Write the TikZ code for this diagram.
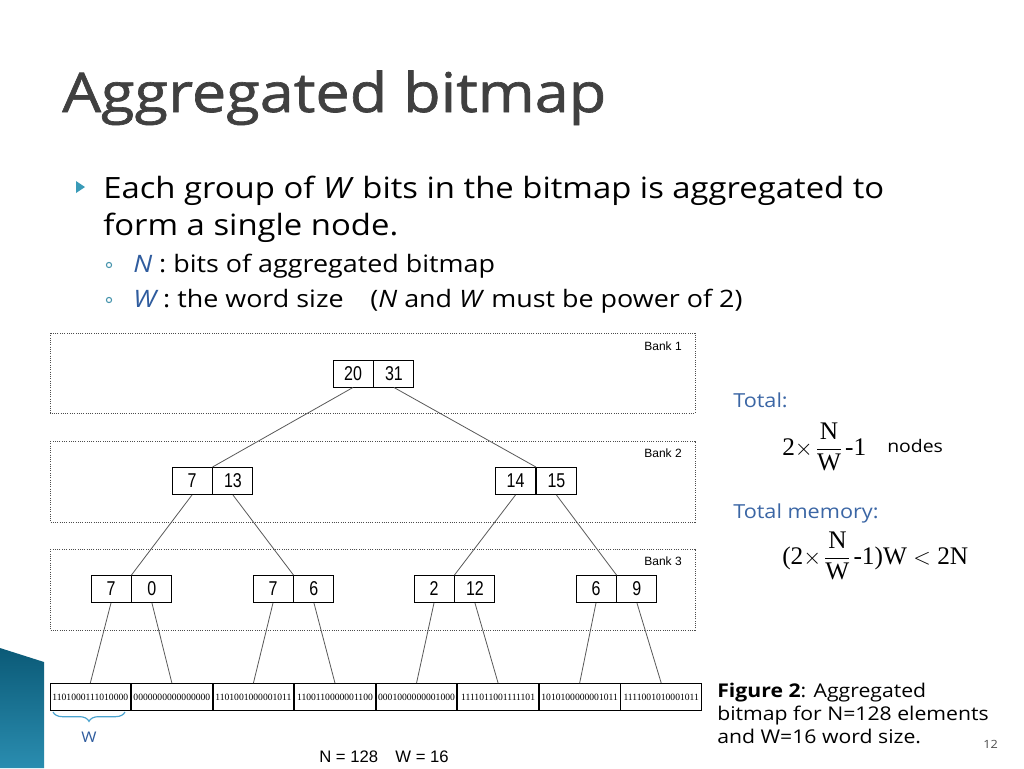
\documentclass[tikz,border=0pt]{standalone}
\usepackage{fontspec}
\usepackage{amsmath}
\setmainfont{Open Sans}[FakeStretch=1.12]
\newfontfamily\titlefont{Open Sans}[FakeStretch=1.12, FakeBold=1.2]
\newfontfamily\arialfont{Liberation Sans}
\newfontfamily\narrowfont[FakeStretch=0.8]{Liberation Sans}
\newfontfamily\timesfont{Liberation Serif}
\usetikzlibrary{positioning,decorations.pathreplacing}
\definecolor{titlegray}{HTML}{404040}
\definecolor{textblue}{HTML}{2F5C9E}
\definecolor{headblue}{HTML}{3B66A5}
\definecolor{bulletteal}{HTML}{3A9BB8}
\definecolor{bracecol}{HTML}{4AA3CF}
\definecolor{cornerdark}{HTML}{0B5A77}
\definecolor{cornerlight}{HTML}{2A8DB0}
\tikzset{
	cell/.style={draw=black, line width=0.7pt, minimum width=30pt, minimum height=20.25pt, inner sep=0pt, font=\narrowfont\fontsize{15}{15}\selectfont},
	bitcell/.style={draw=black, line width=0.7pt, minimum width=60.47pt, minimum height=20.25pt, inner sep=0pt, font=\timesfont\fontsize{7.2}{7.2}\selectfont},
	bankbox/.style={draw=black!70, densely dotted, line width=0.7pt},
	banklabel/.style={anchor=east, inner sep=0pt, font=\arialfont\fontsize{9}{9}\selectfont},
	edge/.style={draw=black!65, line width=0.6pt},
	slidetext/.style={anchor=base west, inner sep=0pt},
}
% two cells side by side: (x)(y)(name){left}{right}
\def\pair(#1)(#2)(#3)#4#5{\node[cell] (#3-a) at (#1, #2) {#4}; \node[cell, right=0pt of #3-a] (#3-b) {#5};}

\begin{document}
\begin{tikzpicture}[x=0.75pt, y=-0.75pt]
			%%%%% START %%%%%
			\useasboundingbox (0, 0) rectangle (1024, 768);
			\fill[white] (0, 0) rectangle (1024, 768);
			
			\shade[top color=cornerdark, bottom color=cornerlight] (0, 648) -- (44, 662) -- (44, 768) -- (0, 768) -- cycle;
			
			\node[slidetext, text=titlegray, font=\titlefont\fontsize{41}{46}\selectfont] (title) at (62, 112) {Aggregated bitmap};
			
			\fill[bulletteal] (76, 181) -- (85, 187) -- (76, 193) -- cycle;
			\node[slidetext, font=\fontsize{22}{26}\selectfont] (line1) at (103, 198) {Each group of \textit{W} bits in the bitmap is aggregated to};
			\node[slidetext, font=\fontsize{22}{26}\selectfont] (line2) at (103, 235) {form a single node.};
			
			\draw[bulletteal!80!gray, line width=0.8pt] (109, 265) circle (2.6);
			\node[slidetext, font=\fontsize{18}{22}\selectfont] (sub1) at (133, 272) {\textcolor{textblue}{\itshape N} : bits of aggregated bitmap};
			\draw[bulletteal!80!gray, line width=0.8pt] (109, 300) circle (2.6);
			\node[slidetext, font=\fontsize{18}{22}\selectfont] (sub2) at (133, 307) {\textcolor{textblue}{\itshape W} : the word size\hspace{20pt}(\textit{N} and \textit{W} must be power of 2)};
			
			% banks
			\draw[bankbox] (50, 333) rectangle (695, 413);
			\node[banklabel] (bank1) at (682, 346) {Bank 1};
			\draw[bankbox] (50, 441) rectangle (695, 522);
			\node[banklabel] (bank2) at (682, 453) {Bank 2};
			\draw[bankbox] (50, 549) rectangle (695, 630);
			\node[banklabel] (bank3) at (682, 561) {Bank 3};
			
			% tree
			\pair(353)(373.5)(root){20}{31}
			\pair(192)(481)(ba){7}{13}
			\pair(515.5)(481)(bb){14}{15}
			\pair(111)(589)(ca){7}{0}
			\pair(273)(589)(cb){7}{6}
			\pair(434)(589)(cc){2}{12}
			\pair(596)(589)(cd){6}{9}
			
			% bitmap
			\node[bitcell] (bm1) at (90.3, 697) {1101000111010000};
			\node[bitcell, right=0pt of bm1] (bm2) {0000000000000000};
			\node[bitcell, right=0pt of bm2] (bm3) {1101001000001011};
			\node[bitcell, right=0pt of bm3] (bm4) {1100110000001100};
			\node[bitcell, right=0pt of bm4] (bm5) {0001000000001000};
			\node[bitcell, right=0pt of bm5] (bm6) {1111011001111101};
			\node[bitcell, right=0pt of bm6] (bm7) {1010100000001011};
			\node[bitcell, right=0pt of bm7] (bm8) {1111001010001011};
			
			\draw[edge] (root-a.south) -- (ba-a.north east);
			\draw[edge] (root-b.south) -- (bb-a.north east);
			\draw[edge] (ba-a.south) -- (ca-a.north east);
			\draw[edge] (ba-b.south) -- (cb-a.north east);
			\draw[edge] (bb-a.south) -- (cc-a.north east);
			\draw[edge] (bb-b.south) -- (cd-a.north east);
			\draw[edge] (ca-a.south) -- (bm1.north);
			\draw[edge] (ca-b.south) -- (bm2.north);
			\draw[edge] (cb-a.south) -- (bm3.north);
			\draw[edge] (cb-b.south) -- (bm4.north);
			\draw[edge] (cc-a.south) -- (bm5.north);
			\draw[edge] (cc-b.south) -- (bm6.north);
			\draw[edge] (cd-a.south) -- (bm7.north);
			\draw[edge] (cd-b.south) -- (bm8.north);
			
			\draw[bracecol, line width=0.9pt, decorate, decoration={brace, mirror, amplitude=7pt}] (53, 712) -- (125, 712);
			\node[text=textblue, font=\fontsize{11}{11}\selectfont] (wlabel) at (89, 737) {W};
			\node[slidetext, font=\arialfont\fontsize{12.5}{14}\selectfont] (sizes) at (319, 762) {N = 128\hspace{13pt}W = 16};
			
			% right column
			\node[slidetext, text=headblue, font=\fontsize{14.5}{16}\selectfont] (total) at (733, 407) {Total:};
			\node[slidetext, font=\timesfont\fontsize{19}{22}\selectfont] (nodecount) at (782, 455) {$\mbox{2}{\times}\mkern2mu\dfrac{\mbox{N}}{\mbox{W}}\mkern2mu\mbox{-1}$};
			\node[slidetext, font=\fontsize{13}{16}\selectfont] (nodesword) at (887, 452) {nodes};
			\node[slidetext, text=headblue, font=\fontsize{14.5}{16}\selectfont] (totalmem) at (733, 518) {Total memory:};
			\node[slidetext, font=\timesfont\fontsize{19}{22}\selectfont] (memory) at (782, 564) {$\mbox{(2}{\times}\mkern2mu\dfrac{\mbox{N}}{\mbox{W}}\mkern2mu\mbox{-1)W}<\mbox{2N}$};
			
			\node[slidetext, font=\fontsize{14.2}{17}\selectfont] (cap1) at (717, 697) {\textbf{Figure 2}: Aggregated};
			\node[slidetext, font=\fontsize{14.2}{17}\selectfont] (cap2) at (717, 720) {bitmap for N=128 elements};
			\node[slidetext, font=\fontsize{14.2}{17}\selectfont] (cap3) at (717, 743) {and W=16 word size.};
			\node[slidetext, text=black!70, font=\fontsize{8.5}{10}\selectfont] (pagenum) at (983, 748) {12};
			%%%%% END %%%%%
		\end{tikzpicture}
\end{document}
